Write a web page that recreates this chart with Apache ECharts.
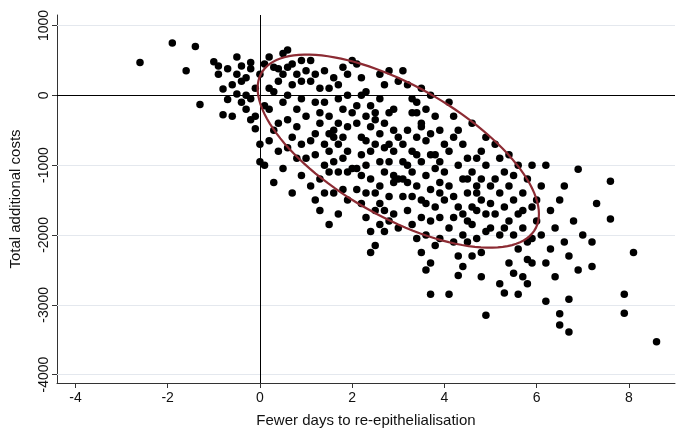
<!DOCTYPE html>
<html>
<head>
<meta charset="utf-8">
<script src="https://cdn.jsdelivr.net/npm/echarts@6/dist/echarts.min.js"></script>
<style>html,body{margin:0;background:#fff}#main{width:685px;height:438px}</style>
</head>
<body>
<div id="main"></div>
<script>
// tick labels
var xTicks = [-4, -2, 0, 2, 4, 6, 8];
var yTicks = [-4000, -3000, -2000, -1000, 0, 1000];

// confidence ellipse: centre and two conjugate half-axes (data units)
var ellCenter = [3.0, -800];
var ellU = [3.05, -900];
var ellV = [0, 1050];

// simulated points (fewer days, additional costs)
var points = [
 [-2.6,470],[-1.9,750],[-1.4,700],[-1.6,350],[-1.3,-130],[-1.0,480],[-0.9,300],[-0.8,-280],[-0.5,550],[-0.4,-100],[-0.3,0],[-0.2,-350],[0.0,-950],[0.1,-1000],
 [-0.9,420],[-0.7,380],[-0.6,150],[-0.5,300],[-0.4,420],[-0.3,250],[-0.3,-200],[-0.2,380],[-0.1,100],[-0.1,-480],[0.0,300],[-0.6,-300],[-0.8,90],[-0.2,-50],[-0.5,20],[-0.7,-60],[-0.4,200],[0,-700],[-0.1,-300],[-0.2,470],
 [0.1,450],[0.2,550],[0.3,400],[0.4,200],[0.5,600],[0.6,650],[0.7,450],[0.8,300],[0.9,500],[0.2,-200],[0.3,-500],[0.4,-800],[0.5,-100],[0.6,-350],[0.7,-600],[0.8,-900],[0.9,-1150],[0.2,100],[0.4,-400],[0.5,300],[0.6,0],[0.7,150],[0.8,-200],[0.9,-50],[1.0,350],[0.3,-1250],[0.5,-1050],[0.7,-1400],[0.9,-700],[0.1,-150],[0.3,50],[0.6,-750],[0.8,-450],[1.0,-300],[0.4,380],[0.2,-650],[0.9,200],[1.0,-900],[0.6,400],
 [1.1,500],[1.2,300],[1.3,100],[1.4,-100],[1.5,-300],[1.6,-500],[1.7,-700],[1.8,-900],[1.9,-1100],[1.1,-1300],[1.2,-1500],[1.3,-1200],[1.4,-1000],[1.5,-800],[1.6,-600],[1.7,-400],[1.8,-200],[1.9,0],[1.1,200],[1.2,-100],[1.3,-400],[1.4,-700],[1.5,-1100],[1.6,-1400],[1.7,-1700],[1.8,-1350],[1.9,-800],[1.2,-850],[1.4,350],[1.6,250],[1.8,400],[2.0,500],[1.3,-1650],[1.5,-1850],[1.7,-1100],[1.9,-450],[1.1,-650],[1.3,-250],[1.5,100],[1.7,-50],[1.9,300],[1.4,-1400],[1.6,-950],[1.8,-600],[2.0,-250],[1.2,-550],[1.5,-550],[1.7,150],[1.9,-1500],[2.0,-1050],
 [2.1,450],[2.2,250],[2.3,50],[2.4,-150],[2.5,-350],[2.6,-550],[2.7,-750],[2.8,-950],[2.9,-1150],[2.1,-1350],[2.2,-1550],[2.3,-1750],[2.4,-1950],[2.5,-2150],[2.6,-1850],[2.7,-1650],[2.8,-1450],[2.9,-1250],[2.1,-1050],[2.2,-850],[2.3,-650],[2.4,-450],[2.5,-250],[2.6,-50],[2.7,150],[2.8,350],[2.9,-200],[2.1,-400],[2.2,-600],[2.3,-1000],[2.4,-1200],[2.5,-1400],[2.6,-1300],[2.7,-1100],[2.8,-700],[2.9,-500],[2.1,-150],[2.3,-300],[2.5,-700],[2.7,-400],[2.9,-800],[2.2,-1150],[2.4,-800],[2.6,-950],[2.8,-250],[3.0,-600],[2.3,-1400],[2.5,-1650],[2.7,-1950],[2.9,-1700],[2.4,-2250],[2.6,-1550],[2.8,-1800],[3.0,-1200],[2.2,0],[2.6,300],[3.0,200],
 [3.1,350],[3.2,150],[3.3,-50],[3.4,-250],[3.5,-450],[3.6,-650],[3.7,-850],[3.8,-1050],[3.9,-1250],[3.1,-1450],[3.2,-1650],[3.3,-1850],[3.4,-2050],[3.5,-2250],[3.6,-2000],[3.7,-1800],[3.8,-1600],[3.9,-1400],[3.1,-1200],[3.2,-1000],[3.3,-800],[3.4,-600],[3.5,-400],[3.6,-200],[3.7,0],[3.8,-300],[3.9,-500],[3.1,-700],[3.2,-500],[3.3,-1100],[3.4,-1300],[3.5,-1500],[3.6,-1150],[3.7,-1350],[3.8,-850],[3.9,-950],[3.1,-950],[3.3,-1450],[3.5,-950],[3.7,-550],[3.9,-1750],[3.2,-1250],[3.4,-850],[3.6,-1550],[3.8,-2150],[4.0,-1100],[3.3,-250],[3.5,-1750],[3.7,-2400],[3.9,-2050],[3.6,-2500],[3.7,-2850],[3.4,-100],[4.0,-700],[3.0,-1900],[3.5,100],
 [4.1,-100],[4.2,-300],[4.3,-500],[4.4,-700],[4.5,-900],[4.6,-1100],[4.7,-1300],[4.8,-1500],[4.9,-1700],[4.1,-1900],[4.2,-2100],[4.3,-2300],[4.4,-2000],[4.5,-1800],[4.6,-1600],[4.7,-1400],[4.8,-1200],[4.9,-1000],[4.1,-800],[4.2,-600],[4.3,-1000],[4.4,-1200],[4.5,-1400],[4.6,-1850],[4.7,-2050],[4.8,-2250],[4.9,-1950],[4.1,-1300],[4.3,-1600],[4.5,-1200],[4.7,-900],[4.9,-600],[4.2,-1450],[4.4,-1700],[4.6,-2300],[4.8,-800],[5.0,-1300],[4.1,-2850],[4.3,-2580],[4.4,-2450],[4.9,-3150],[4.8,-2600],[4.6,-400],[4.2,-1750],[4.0,-1500],[4.5,-2100],[4.7,-1650],[5.0,-1900],
 [5.1,-700],[5.2,-900],[5.3,-1100],[5.4,-1300],[5.5,-1500],[5.6,-1700],[5.7,-1900],[5.8,-2100],[5.9,-1600],[5.1,-1200],[5.2,-1400],[5.3,-1600],[5.4,-1800],[5.5,-2000],[5.6,-2200],[5.7,-1400],[5.8,-1200],[5.9,-1000],[5.1,-1700],[5.2,-2000],[5.3,-2830],[5.4,-2400],[5.5,-2550],[5.6,-1000],[5.7,-2600],[5.8,-2350],[5.9,-2050],[6.0,-1500],[5.3,-1900],[5.5,-1150],[5.7,-1650],[5.9,-2400],[5.2,-2700],[5.6,-2850],[5.0,-1550],[5.4,-850],[6.0,-1800],[5.8,-2700],
 [6.1,-1300],[6.1,-2000],[6.2,-2950],[6.2,-2400],[6.3,-1650],[6.3,-2200],[6.4,-1900],[6.4,-2600],[6.5,-3130],[6.5,-3290],[6.5,-1500],[6.6,-2100],[6.7,-3390],[6.7,-2920],[6.7,-2300],[6.8,-1800],[6.9,-1060],[6.9,-2500],[7.0,-2000],[7.2,-2100],[7.2,-2450],[7.3,-1550],[7.6,-1230],[7.6,-1770],[7.9,-2850],[7.9,-3120],[8.1,-2250],[8.6,-3530],[6.2,-1000],[6.6,-1300]
];

var myChart = echarts.init(document.getElementById('main'));
var font = 'Liberation Sans, Arial, sans-serif';

myChart.setOption({
    backgroundColor: '#fff',
    animation: false,
    grid: { left: 52, right: 10, top: 15, bottom: 55 },
    xAxis: {
        type: 'value', min: -4.4, max: 9.0,
        name: 'Fewer days to re-epithelialisation', nameLocation: 'middle', nameGap: 30,
        nameTextStyle: { fontFamily: font, fontSize: 15, color: '#111' },
        axisLine: { show: true, onZero: false, lineStyle: { color: '#333' } },
        axisTick: { show: true, customValues: xTicks, length: 5, lineStyle: { color: '#333' } },
        axisLabel: { customValues: xTicks, fontFamily: font, fontSize: 14, color: '#111' },
        splitLine: { show: false }
    },
    yAxis: {
        type: 'value', min: -4120, max: 1150,
        name: 'Total additional costs', nameLocation: 'middle', nameGap: 34,
        nameTextStyle: { fontFamily: font, fontSize: 15, color: '#111' },
        axisLine: { show: true, onZero: false, lineStyle: { color: '#333' } },
        axisTick: { show: true, customValues: yTicks, length: 5, lineStyle: { color: '#333' } },
        axisLabel: { customValues: yTicks, rotate: 90, fontFamily: font, fontSize: 14, color: '#111', margin: 6,
            formatter: function (v) { return String(v); } },
        splitLine: { show: false }
    },
    series: [{
        type: 'scatter',
        data: [],
        z: 1,
        markLine: {
            silent: true, symbol: 'none', label: { show: false }, z: 1,
            data: yTicks.filter(function (v) { return v !== 0; }).map(function (v) {
                return { yAxis: v, lineStyle: { color: '#e4e8ee', width: 1, type: 'solid' } };
            })
        }
    }, {
        type: 'scatter',
        data: points,
        symbolSize: 7.5,
        itemStyle: { color: '#000', opacity: 1 },
        z: 3,
        markLine: {
            silent: true, symbol: 'none', label: { show: false },
            data: [
                { yAxis: 0, lineStyle: { color: '#000', width: 1, type: 'solid' } },
                { xAxis: 0, lineStyle: { color: '#000', width: 1, type: 'solid' } }
            ]
        }
    }, {
        type: 'custom',
        data: [[0]],
        z: 5,
        renderItem: function (params, api) {
            var pts = [];
            for (var i = 0; i <= 120; i++) {
                var t = i / 120 * Math.PI * 2;
                pts.push(api.coord([
                    ellCenter[0] + ellU[0] * Math.cos(t) + ellV[0] * Math.sin(t),
                    ellCenter[1] + ellU[1] * Math.cos(t) + ellV[1] * Math.sin(t)
                ]));
            }
            return {
                type: 'polyline',
                shape: { points: pts },
                style: { stroke: '#8c2b33', lineWidth: 2.2, fill: null }
            };
        }
    }]
});
</script>
</body>
</html>
